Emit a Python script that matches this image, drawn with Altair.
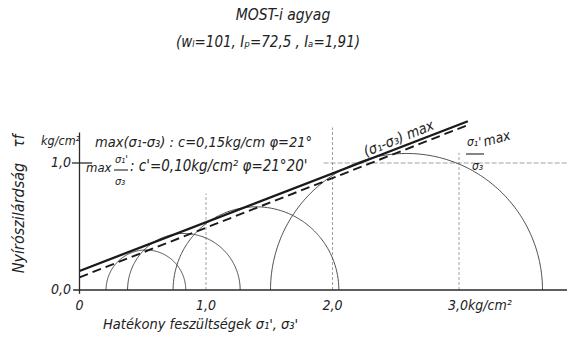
import altair as alt
import numpy as np
import pandas as pd

# Effective principal stresses of the four Mohr circles (kg/cm²)
sigma3_eff = [0.21, 0.38, 0.74, 1.51]
sigma1_eff = [0.84, 1.27, 2.05, 3.66]

# Failure envelopes: cohesion (kg/cm²) and friction angle (degrees)
env_names = ["max(σ1-σ3)", "max σ1'/σ3'"]
env_c = [0.15, 0.10]
env_phi = [21.0, 21.0 + 20.0 / 60.0]
env_sigma_end = 3.07

# Axis ticks
x_tick_vals = [0.0, 1.0, 2.0]
x_tick_labels = ["0", "1,0", "2,0"]
y_tick_vals = [0.0, 1.0]
y_tick_labels = ["0,0", "1,0"]

# Construction lines
grid_x = [1.0, 2.0, 3.0]
grid_x_top = [0.76, 1.28, 1.08]
grid_y = 1.0
grid_y_from, grid_y_to = 1.93, 3.86

W, H = 567, 339
X0, SX = 79.5, 126.5   # pixel of sigma = 0, pixels per kg/cm²
Y0, SY = 290.0, 127.0  # pixel of tau = 0, pixels per kg/cm²
xs = alt.Scale(domain=[-X0 / SX, (W - X0) / SX], nice=False, zero=False)
ys = alt.Scale(domain=[(Y0 - H) / SY, Y0 / SY], nice=False, zero=False)

FONT = "DejaVu Sans Condensed, DejaVu Sans, sans-serif"
INK = "#222222"


def X(field="x"):
    return alt.X(f"{field}:Q", scale=xs, axis=None)


def Y(field="y"):
    return alt.Y(f"{field}:Q", scale=ys, axis=None)


# Mohr semicircles
rows = []
theta = np.linspace(0, np.pi, 181)
for i, (s3, s1) in enumerate(zip(sigma3_eff, sigma1_eff)):
    p, q = (s1 + s3) / 2, (s1 - s3) / 2
    for k, t in enumerate(theta):
        rows.append({"circle": i, "k": k, "x": p + q * np.cos(t), "y": q * np.sin(t)})
circles = alt.Chart(pd.DataFrame(rows)).mark_line(
    stroke="#3a3a3a", strokeWidth=0.9
).encode(x=X(), y=Y(), detail="circle:N", order="k:Q")

# Envelopes
env_rows = []
for name, c, phi in zip(env_names, env_c, env_phi):
    for s in (0.0, env_sigma_end):
        env_rows.append({"env": name, "x": s, "y": c + s * np.tan(np.radians(phi))})
env_df = pd.DataFrame(env_rows)
env_solid = alt.Chart(env_df[env_df.env == env_names[0]]).mark_line(
    stroke="#1a1a1a", strokeWidth=2.3
).encode(x=X(), y=Y())
env_dash = alt.Chart(env_df[env_df.env == env_names[1]]).mark_line(
    stroke="#1a1a1a", strokeWidth=1.9, strokeDash=[9, 5]
).encode(x=X(), y=Y())

# Axes
axis_df = pd.DataFrame([
    {"x": -0.05, "x2": 3.86, "y": 0.0, "y2": 0.0},
    {"x": 0.0, "x2": 0.0, "y": -0.03, "y2": 1.24},
    {"x": -0.06, "x2": 0.10, "y": 1.0, "y2": 1.0},
])
axes = alt.Chart(axis_df).mark_rule(stroke="#2a2a2a", strokeWidth=1.3).encode(
    x=X(), x2="x2:Q", y=Y(), y2="y2:Q"
)

# Construction lines
gx_df = pd.DataFrame({"x": grid_x, "y": [0.0] * 3, "y2": grid_x_top})
gx = alt.Chart(gx_df).mark_rule(stroke="#8a8a8a", strokeWidth=0.8, strokeDash=[3, 2]).encode(
    x=X(), y=Y(), y2="y2:Q"
)
gy = alt.Chart(pd.DataFrame({"x": [grid_y_from], "x2": [grid_y_to], "y": [grid_y]})).mark_rule(
    stroke="#8a8a8a", strokeWidth=0.8, strokeDash=[5, 2]
).encode(x=X(), x2="x2:Q", y=Y())

# Tick labels
xt = alt.Chart(pd.DataFrame({"x": x_tick_vals, "t": x_tick_labels})).mark_text(
    font=FONT, fontStyle="italic", fontSize=14, color=INK, baseline="middle", dy=16
).encode(x=X(), y=alt.value(Y0), text="t:N")
xt3 = alt.Chart(pd.DataFrame({"x": [3.0], "t": ["3,0kg/cm²"]})).mark_text(
    font=FONT, fontStyle="italic", fontSize=14, color=INK, baseline="middle", align="left",
    dx=-11, dy=16
).encode(x=X(), y=alt.value(Y0), text="t:N")
yt = alt.Chart(pd.DataFrame({"y": y_tick_vals, "t": y_tick_labels})).mark_text(
    font=FONT, fontStyle="italic", fontSize=14, color=INK, baseline="middle", align="right"
).encode(x=alt.value(71), y=Y(), text="t:N")


def label(text, x, y, size=15, angle=0, align="left", style="italic"):
    return alt.Chart(pd.DataFrame({"t": [text]})).mark_text(
        font=FONT, fontStyle=style, fontSize=size, color=INK, baseline="middle",
        align=align, angle=angle
    ).encode(x=alt.value(x), y=alt.value(y), text="t:N")


def bar(x1, x2, y):
    return alt.Chart(pd.DataFrame({"a": [0]})).mark_rule(stroke=INK, strokeWidth=1.1).encode(
        x=alt.value(x1), x2=alt.value(x2), y=alt.value(y)
    )


texts = [
    label("MOST-i agyag", 283, 15, size=15.5, align="center"),
    label("(wₗ=101,  Iₚ=72,5 ,  Iₐ=1,91)", 268, 42, size=15, align="center"),
    label("Nyírószilárdság", 19, 218, size=16, angle=270, align="center"),
    label("τf", 19, 141, size=15, angle=270, align="center"),
    label("kg/cm²", 41, 141, size=12.5),
    label("max(σ₁-σ₃) : c=0,15kg/cm  φ=21°", 95, 143, size=14.5),
    label("max", 86, 168, size=13),
    label("σ₁'", 115, 160, size=11),
    label("σ₃", 115, 182, size=11),
    label(": c'=0,10kg/cm² φ=21°20'", 130, 166, size=15),
    label("(σ₁-σ₃) max", 399, 139, size=14.5, angle=338, align="center"),
    label("σ₁'", 467, 142, size=12),
    label("max", 497, 139, size=14, angle=345, align="center"),
    label("σ₃", 472, 166, size=12),
    label("Hatékony feszültségek  σ₁', σ₃'", 103, 325, size=14.5),
    bar(114, 128, 170),
    bar(466, 484, 154),
]

chart = alt.layer(
    gx, gy, circles, env_dash, env_solid, axes, xt, xt3, yt, *texts
).properties(
    width=W, height=H, padding=0, autosize=alt.AutoSizeParams(type="none"),
    background="white"
).configure_view(stroke=None)

chart.save("out.html", embed_options={"renderer": "svg", "actions": False})
